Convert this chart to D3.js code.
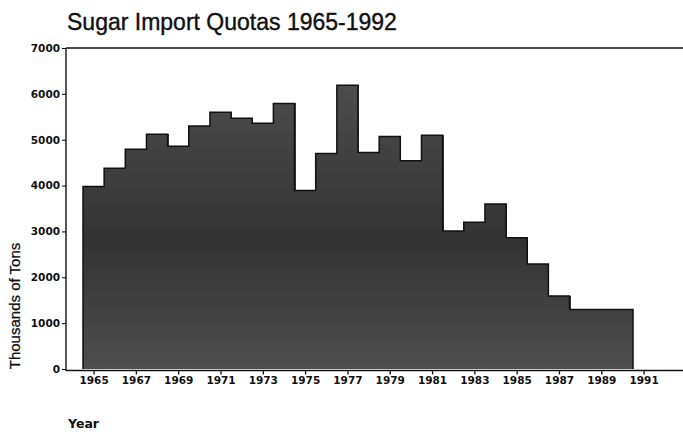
<!DOCTYPE html>
<html>
<head>
<meta charset="utf-8">
<script src="https://cdn.jsdelivr.net/npm/d3@7"></script>
<style>
  body { margin: 0; background: #fff; }
  svg { display: block; }
</style>
</head>
<body>
<div id="chart"></div>
<script>
const years = d3.range(1965, 1991);
const quotas = [3980, 4380, 4790, 5120, 4860, 5300, 5600, 5470, 5360, 5790,
                3890, 4700, 6190, 4720, 5070, 4540, 5100, 3010, 3200, 3600,
                2860, 2290, 1590, 1300, 1300, 1300];
const yTicks = [0, 1000, 2000, 3000, 4000, 5000, 6000, 7000];
const xTicks = [1965, 1967, 1969, 1971, 1973, 1975, 1977, 1979, 1981, 1983, 1985, 1987, 1989, 1991];

const width = 683;
const height = 432;
const axisX = 66;

const svg = d3.select("#chart")
  .append("svg")
  .attr("width", width)
  .attr("height", height);

const x = d3.scaleLinear()
  .domain([1964.5, 1990.5])
  .range([83, 633]);

const y = d3.scaleLinear()
  .domain([0, 7000])
  .range([369, 48]);

// gradient for the scanned dark fill
const grad = svg.append("defs").append("linearGradient")
  .attr("id", "barFill")
  .attr("gradientUnits", "userSpaceOnUse")
  .attr("x1", 0).attr("x2", 0)
  .attr("y1", y(7000)).attr("y2", y(0));
grad.append("stop").attr("offset", "0%").attr("stop-color", "#525252");
grad.append("stop").attr("offset", "60%").attr("stop-color", "#333");
grad.append("stop").attr("offset", "100%").attr("stop-color", "#4e4e4e");

// Bars (overlap by a pixel so no seams show)
svg.selectAll("rect.bar")
  .data(years)
  .enter()
  .append("rect")
  .attr("class", "bar")
  .attr("x", d => x(d - 0.5))
  .attr("y", (d, i) => y(quotas[i]))
  .attr("width", (d, i) => x(d + 0.5) - x(d - 0.5) + (i < years.length - 1 ? 1 : 0))
  .attr("height", (d, i) => y(0) - y(quotas[i]))
  .attr("fill", "url(#barFill)")
  .attr("shape-rendering", "crispEdges");

// Outline of the stepped silhouette
const last = years.length - 1;
const pts = [[x(years[0] - 0.5), y(0)]]
  .concat(years.map((d, i) => [x(d - 0.5), y(quotas[i])]))
  .concat([[x(years[last] + 0.5), y(quotas[last])], [x(years[last] + 0.5), y(0)]]);

svg.append("path")
  .attr("d", d3.line().curve(d3.curveStepAfter)(pts))
  .attr("fill", "none")
  .attr("stroke", "#111")
  .attr("stroke-width", 1.5);

// frame lines
svg.append("line")
  .attr("x1", axisX).attr("x2", width)
  .attr("y1", y(7000)).attr("y2", y(7000))
  .attr("stroke", "#111").attr("stroke-width", 1.3);

svg.append("line")
  .attr("x1", axisX).attr("x2", width)
  .attr("y1", y(0) + 1.5).attr("y2", y(0) + 1.5)
  .attr("stroke", "#111").attr("stroke-width", 1.6);

// Y axis
const yAxis = svg.append("g")
  .attr("transform", `translate(${axisX},0)`)
  .call(d3.axisLeft(y).tickValues(yTicks).tickFormat(d3.format("d")).tickSize(4).tickPadding(2));
yAxis.select(".domain").attr("d", `M0,${y(7000)}V${y(0) + 2}`).attr("stroke", "#111").attr("stroke-width", 1.4);
yAxis.selectAll("text")
  .attr("font-family", "DejaVu Sans")
  .attr("font-weight", "bold")
  .attr("font-size", 10.5)
  .attr("fill", "#111");

// X axis
const xAxis = svg.append("g")
  .attr("transform", `translate(0,${y(0) + 1.5})`)
  .call(d3.axisBottom(x).tickValues(xTicks).tickFormat(d3.format("d")).tickSize(4).tickPadding(2));
xAxis.select(".domain").remove();
xAxis.selectAll("line").attr("stroke", "#111").attr("stroke-width", 1.3);
xAxis.selectAll("text")
  .attr("font-family", "DejaVu Sans")
  .attr("font-weight", "bold")
  .attr("font-size", 10.5)
  .attr("fill", "#111");

// Title
svg.append("text")
  .attr("x", 67)
  .attr("y", 30)
  .attr("font-family", "Liberation Sans, Arial, sans-serif")
  .attr("font-size", 23)
  .attr("fill", "#111")
  .attr("stroke", "#111")
  .attr("stroke-width", 0.4)
  .text("Sugar Import Quotas 1965-1992");

// Axis titles
svg.append("text")
  .attr("transform", "translate(20,306) rotate(-90)")
  .attr("text-anchor", "middle")
  .attr("font-family", "Liberation Sans, Arial, sans-serif")
  .attr("font-size", 15)
  .attr("fill", "#111")
  .attr("stroke", "#111")
  .attr("stroke-width", 0.3)
  .text("Thousands of Tons");

svg.append("text")
  .attr("x", 68)
  .attr("y", 428)
  .attr("font-family", "DejaVu Sans")
  .attr("font-weight", "bold")
  .attr("font-size", 12.5)
  .attr("fill", "#111")
  .text("Year");
</script>
</body>
</html>
